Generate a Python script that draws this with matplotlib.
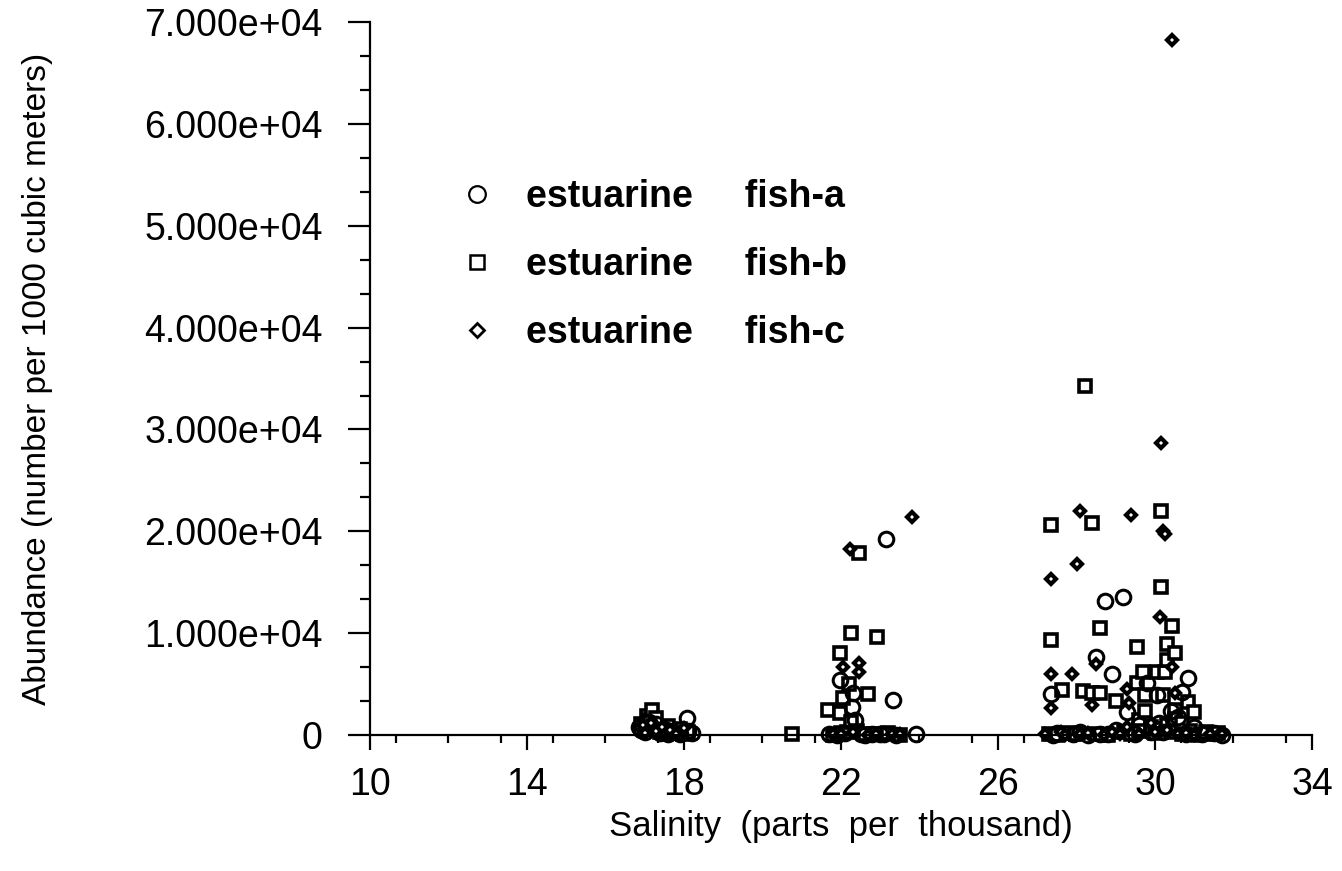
import matplotlib
matplotlib.use("Agg")
import matplotlib.pyplot as plt
from matplotlib.lines import Line2D
from matplotlib.ticker import MultipleLocator, FuncFormatter

plt.rcParams['font.family'] = ['Liberation Sans', 'DejaVu Sans']

# salinity (ppt) and abundance (number per 1000 m3)
fish_a_sal = [16.85, 16.9, 17.0, 17.1, 17.2, 17.3, 17.4, 17.5, 17.6, 17.7, 17.9, 18.07, 18.1, 18.2,
              21.7, 21.9, 21.97, 22.1, 22.28, 22.3, 22.35, 22.5, 22.6, 22.8, 23.0, 23.1,
              23.15, 23.33, 23.4, 23.9,
              27.35, 27.4, 27.5, 27.9, 28.1, 28.3, 28.5, 28.6, 28.73, 28.8, 28.9, 29.0,
              29.19, 29.3, 29.5, 29.6, 29.8, 29.9, 30.05, 30.1, 30.2, 30.4, 30.6, 30.7,
              30.8, 30.85, 31.0, 31.2, 31.5, 31.7]
fish_a_abd = [800, 500, 300, 1300, 700, 1100, 200, 600, 150, 400, 100, 1650, 400, 200,
              100, 50, 5400, 200, 2750, 4100, 1500, 100, 50, 150, 100, 100,
              19200, 3400, 50, 150,
              4000, 50, 200, 100, 300, 50, 7700, 100, 13200, 150, 6000, 500,
              13600, 2250, 100, 1000, 5100, 300, 3900, 1200, 300, 2400, 1800, 4200,
              100, 5600, 800, 150, 200, 50]

fish_b_sal = [16.9, 17.0, 17.05, 17.1, 17.18, 17.2, 17.3, 17.4, 17.5, 17.6, 17.7, 17.9, 18.0, 18.1,
              20.75, 21.67, 21.8, 21.97, 21.97, 22.0, 22.05, 22.15, 22.2, 22.25, 22.25, 22.4,
              22.46, 22.6, 22.7, 22.85, 22.92, 23.2, 23.5,
              27.3, 27.35, 27.35, 27.5, 27.63, 27.8, 28.0, 28.17, 28.22, 28.39, 28.4, 28.5,
              28.6, 28.6, 28.8, 29.0, 29.2, 29.4, 29.54, 29.55, 29.6, 29.6, 29.7, 29.75,
              29.75, 29.9, 30.0, 30.05, 30.1, 30.15, 30.15, 30.2, 30.25, 30.3, 30.3, 30.3,
              30.4, 30.43, 30.5, 30.5, 30.5, 30.7, 30.7, 30.85, 30.9, 31.0, 31.1, 31.3,
              31.5, 31.6]
fish_b_abd = [1100, 600, 1900, 1500, 2450, 900, 1700, 300, 500, 900, 200, 600, 100, 300,
              100, 2450, 50, 8050, 2150, 200, 3600, 300, 5000, 10000, 1300, 400,
              17850, 100, 4000, 100, 9600, 200, 50,
              100, 20600, 9300, 50, 4400, 200, 100, 4300, 34300, 20800, 4100, 150,
              10500, 4100, 50, 3300, 300, 100, 8600, 5100, 1500, 400, 6200, 3900,
              2400, 800, 200, 6200, 600, 21950, 14500, 3900, 6200, 8900, 7350, 1000,
              300, 10700, 8100, 2500, 1600, 1200, 100, 3200, 400, 2300, 50, 300,
              100, 200]

fish_c_sal = [16.95, 17.0, 17.15, 17.3, 17.45, 17.65, 17.8, 18.0,
              21.8, 22.0, 22.05, 22.23, 22.3, 22.46, 22.46, 22.7, 22.9, 23.3, 23.5, 23.81,
              27.2, 27.35, 27.35, 27.35, 27.6, 27.7, 27.88, 28.01, 28.09, 28.1, 28.3, 28.4,
              28.5, 28.7, 28.9, 29.1, 29.28, 29.3, 29.35, 29.39, 29.6, 29.9, 30.0, 30.13,
              30.15, 30.2, 30.25, 30.3, 30.43, 30.43, 30.5, 30.6, 30.8, 31.0, 31.4, 31.7]
fish_c_abd = [1000, 200, 1200, 400, 800, 500, 100, 700,
              100, 100, 6700, 18300, 300, 7050, 6200, 50, 100, 100, 100, 21400,
              100, 15300, 6000, 2650, 300, 50, 6000, 16750, 21950, 100, 200, 2950,
              7000, 50, 300, 150, 4500, 800, 3100, 21650, 100, 1200, 300, 11550,
              28700, 20000, 19700, 500, 68200, 6700, 4100, 100, 200, 50, 100, 100]

x_ticks = [10, 14, 18, 22, 26, 30, 34]
y_ticks = [0, 10000, 20000, 30000, 40000, 50000, 60000, 70000]
labels = ['estuarine     fish-a', 'estuarine     fish-b', 'estuarine     fish-c']

fig = plt.figure(figsize=(13.42, 8.71), dpi=100)
ax = fig.add_axes([0.2757, 0.1561, 0.7019, 0.8186])

ax.plot(fish_b_sal, fish_b_abd, 's', ms=8, mfc='white', mec='black', mew=2.6, ls='none', clip_on=False)
ax.plot(fish_a_sal, fish_a_abd, 'o', ms=10.5, mfc='none', mec='black', mew=2.2, ls='none', clip_on=False)
ax.plot(fish_c_sal, fish_c_abd, 'D', ms=5.5, mfc='white', mec='black', mew=3.0, ls='none', clip_on=False)

ax.set_xlim(10, 34)
ax.set_ylim(0, 70000)
ax.set_xticks(x_ticks)
ax.set_yticks(y_ticks)
ax.xaxis.set_minor_locator(MultipleLocator(4 / 3))
ax.yaxis.set_minor_locator(MultipleLocator(10000 / 3))
ax.yaxis.set_major_formatter(FuncFormatter(lambda v, p: '0' if v == 0 else '{:.3e}'.format(v)))

for s in ['top', 'right']:
    ax.spines[s].set_visible(False)
for s in ['left', 'bottom']:
    ax.spines[s].set_linewidth(1.6)

ax.tick_params(axis='both', which='major', direction='out', width=1.6, labelsize=27)
ax.tick_params(axis='y', which='major', length=16, pad=18)
ax.tick_params(axis='x', which='major', length=11, pad=12)
ax.tick_params(axis='y', which='minor', direction='out', length=7, width=1.6)
ax.tick_params(axis='x', which='minor', direction='out', length=6, width=1.6)

ax.set_xlabel('Salinity  (parts  per  thousand)', fontsize=25)
ax.set_ylabel('Abundance (number per 1000 cubic meters)', fontsize=24)
ax.xaxis.set_label_coords(0.5, -0.105)
ax.yaxis.set_label_coords(-0.336, 0.5)

handles = [
    Line2D([], [], marker='o', ls='none', ms=12, mfc='none', mec='black', mew=1.6),
    Line2D([], [], marker='s', ls='none', ms=10, mfc='none', mec='black', mew=1.8),
    Line2D([], [], marker='D', ls='none', ms=7, mfc='none', mec='black', mew=2.0),
]
ax.legend(handles, labels, loc='upper left', bbox_to_anchor=(0.319, 0.833),
          bbox_transform=fig.transFigure, frameon=False, handlelength=0.8,
          handletextpad=0.9, labelspacing=0.85,
          prop={'size': 27, 'weight': 'bold'})

fig.savefig('out.png', dpi=100)
